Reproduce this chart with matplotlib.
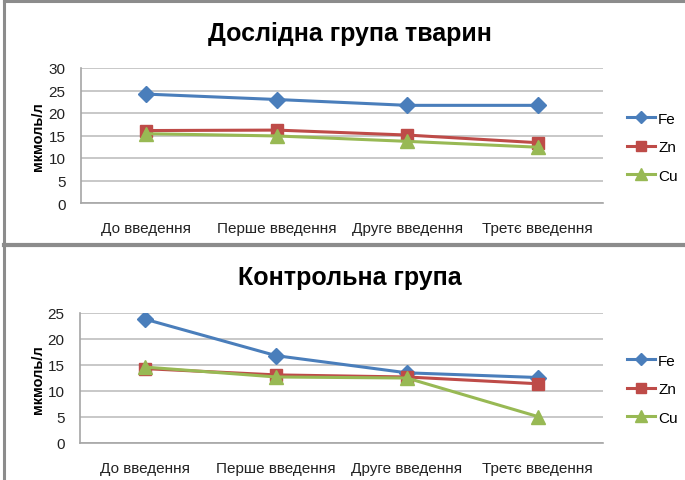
import matplotlib
matplotlib.use('Agg')
import matplotlib.pyplot as plt
from matplotlib.lines import Line2D

plt.rcParams['font.family'] = ['Liberation Sans', 'DejaVu Sans']

stages = ['До введення', 'Перше введення', 'Друге введення', 'Третє введення']
elements = ['Fe', 'Zn', 'Cu']

# дослідна група
exp_fe = [24.2, 23.0, 21.7, 21.7]
exp_zn = [16.1, 16.2, 15.1, 13.4]
exp_cu = [15.4, 14.9, 13.7, 12.4]

# контрольна група
ctl_fe = [23.7, 16.7, 13.4, 12.5]
ctl_zn = [14.2, 13.0, 12.6, 11.3]
ctl_cu = [14.5, 12.6, 12.4, 5.0]

colors = ['#4a7ebb', '#be4b48', '#98b954']
markers = ['D', 's', '^']
msizes = [8, 9, 10]

W, H = 685, 481
fig = plt.figure(figsize=(W / 100, H / 100), dpi=100)


def fx(px):
    return px / W


def fy(py):
    return 1 - py / H


def panel(rect, title, series, ymax, title_y, ylab_y, leg_y):
    ax = fig.add_axes(rect)
    x = range(len(stages))
    for vals, c, m, ms in zip(series, colors, markers, msizes):
        ax.plot(x, vals, color=c, lw=2.2, marker=m, ms=ms, mec=c, zorder=3)
    ax.set_xlim(-0.5, len(stages) - 0.5)
    ax.set_ylim(0, ymax)
    ax.set_yticks(range(0, ymax + 1, 5))
    ax.set_xticks(list(x))
    ax.set_xticklabels(stages)
    ax.tick_params(axis='both', length=0, labelsize=11, colors='#222222')
    ax.tick_params(axis='x', pad=13)
    ax.tick_params(axis='y', pad=11)
    ax.grid(axis='y', color='#c4c4c4', lw=1.3)
    ax.set_axisbelow(True)
    for s in ['top', 'right']:
        ax.spines[s].set_visible(False)
    for s in ['left', 'bottom']:
        ax.spines[s].set_color('#a6a6a6')
        ax.spines[s].set_linewidth(1.2)
    fig.text(fx(350), fy(title_y), title, ha='center', va='center',
             fontsize=18, fontweight='bold')
    fig.text(fx(38), fy(ylab_y), 'мкмоль/л', ha='center', va='center',
             rotation=90, fontsize=10.5, fontweight='bold')
    handles = [Line2D([], [], color=c, lw=2.2, marker=m, ms=ms * 0.8, mec=c)
               for c, m, ms in zip(colors, markers, msizes)]
    ax.legend(handles, elements, loc='upper left', bbox_to_anchor=(fx(613), fy(leg_y)),
              bbox_transform=fig.transFigure, frameon=False, fontsize=11,
              handlelength=1.85, handletextpad=0.2, labelspacing=0.95)
    return ax


panel([fx(81), fy(204), fx(603 - 81), (204 - 69) / H],
      'Дослідна група тварин', [exp_fe, exp_zn, exp_cu], 30, 34, 137, 99)
panel([fx(80), fy(443.5), fx(603 - 80), (443.5 - 313.5) / H],
      'Контрольна група', [ctl_fe, ctl_zn, ctl_cu], 25, 278, 380, 341)

# рамки панелей
frame = dict(color='#8c8c8c', lw=2.2, transform=fig.transFigure)
fig.add_artist(Line2D([fx(4), 1], [fy(2), fy(2)], **frame))
fig.add_artist(Line2D([fx(4), fx(4)], [fy(2), 0], **frame))
fig.add_artist(Line2D([fx(4), 1], [fy(245.5), fy(245.5)], color='#8c8c8c', lw=3,
                      transform=fig.transFigure))

fig.savefig('out.png', dpi=100)
